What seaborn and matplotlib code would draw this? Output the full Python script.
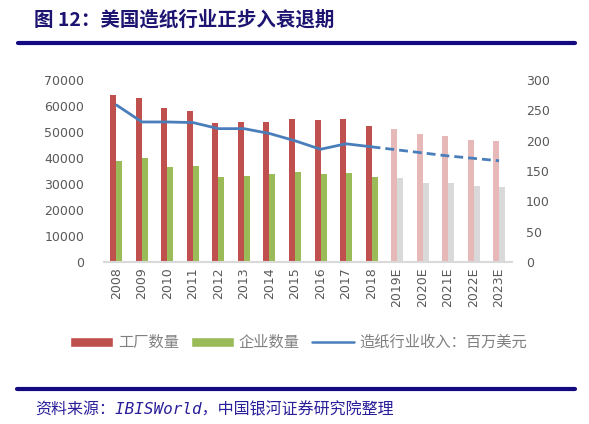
import numpy as np
import pandas as pd
import matplotlib as mpl
import matplotlib.pyplot as plt
from matplotlib.patches import Patch
from matplotlib.lines import Line2D
import seaborn as sns

sns.set_style('white')
mpl.rcParams['font.family'] = ['DejaVu Sans', 'Noto Sans CJK SC']
mpl.rcParams['axes.unicode_minus'] = False

# 数据
years = ['2008', '2009', '2010', '2011', '2012', '2013', '2014', '2015',
         '2016', '2017', '2018', '2019E', '2020E', '2021E', '2022E', '2023E']
factories = [64200, 63300, 59100, 58200, 53500, 54000, 53700, 55100,
             54600, 55100, 52300, 51300, 49200, 48500, 46900, 46500]
companies = [39000, 40100, 36400, 36900, 32600, 33000, 33800, 34500,
             34000, 34200, 32600, 32300, 30400, 30400, 29200, 28800]
revenue = [259, 231, 231, 230, 220, 220, 212, 200,
           186, 195, 190, 185, 180, 175, 171, 167]
n_actual = 11  # 2008-2018 实际值，之后为预测

red, green = '#C0504D', '#9BBB59'
pink, grey = '#E6B9B8', '#D9D9D9'
blue = '#4A7EBB'
navy = '#120a80'
txt = '#595959'

df = pd.DataFrame({'year': years, '工厂数量': factories, '企业数量': companies})
df_long = df.melt(id_vars='year', var_name='series', value_name='value')

fig = plt.figure(figsize=(5.89, 4.24), dpi=100)
ax = fig.add_axes([0.176, 0.382, 0.693, 0.429])

sns.barplot(data=df_long, x='year', y='value', hue='series', order=years,
            palette=[red, green], width=0.47, ax=ax, legend=False,
            linewidth=0, saturation=1)
# 预测年份用浅色
for bar in ax.containers[0][n_actual:]:
    bar.set_facecolor(pink)
for bar in ax.containers[1][n_actual:]:
    bar.set_facecolor(grey)

ax.set_ylim(0, 70000)
ax.set_yticks(range(0, 70001, 10000))
ax.set_xlim(-0.5, len(years) - 0.5)
ax.set_xlabel('')
ax.set_ylabel('')
ax.tick_params(axis='x', rotation=90, labelsize=9, colors=txt, length=0, pad=4)
ax.tick_params(axis='y', labelsize=9, colors=txt, length=0, pad=14)
for s in ['top', 'right', 'left']:
    ax.spines[s].set_visible(False)
ax.spines['bottom'].set_color(grey)
ax.spines['bottom'].set_linewidth(1.5)

# 收入折线（右轴）
ax2 = ax.twinx()
pos = np.arange(len(years))
line_df = pd.DataFrame({'x': pos, 'rev': revenue})
sns.lineplot(data=line_df.iloc[:n_actual], x='x', y='rev', color=blue,
             linewidth=2.0, ax=ax2)
sns.lineplot(data=line_df.iloc[n_actual - 1:], x='x', y='rev', color=blue,
             linewidth=2.0, linestyle=(0, (3.2, 1.8)), ax=ax2)
ax2.set_ylim(0, 300)
ax2.set_yticks(range(0, 301, 50))
ax2.set_xlim(-0.5, len(years) - 0.5)
ax2.set_xlabel('')
ax2.set_ylabel('')
ax2.tick_params(axis='y', labelsize=9, colors=txt, length=0, pad=10)
for s in ax2.spines.values():
    s.set_visible(False)

handles = [Patch(facecolor=red, label='工厂数量'),
           Patch(facecolor=green, label='企业数量'),
           Line2D([], [], color=blue, linewidth=1.8, label='造纸行业收入：百万美元')]
leg = fig.legend(handles=handles, loc='center', bbox_to_anchor=(0.507, 0.192),
                 ncol=3, frameon=False, fontsize=11, handlelength=2.8,
                 handleheight=0.6, handletextpad=0.3, columnspacing=0.8)
for t in leg.get_texts():
    t.set_color('#808080')

# 标题、分隔线与资料来源
fig.text(0.057, 0.953, '图 12：美国造纸行业正步入衰退期', fontsize=14,
         fontweight='bold', color='#1c1470', va='center', ha='left',
         family=['Noto Sans CJK SC'])
fig.add_artist(Line2D([0.03, 0.977], [0.898, 0.898], color=navy, linewidth=3))
fig.add_artist(Line2D([0.029, 0.977], [0.083, 0.083], color=navy, linewidth=3))
fig.text(0.06, 0.033, '资料来源：IBISWorld，中国银河证券研究院整理', fontsize=11.5,
         style='italic', color='#2a1f9a', va='center', ha='left',
         family=['DejaVu Sans Mono', 'Noto Sans CJK SC'])

fig.savefig('out.png', dpi=100)
